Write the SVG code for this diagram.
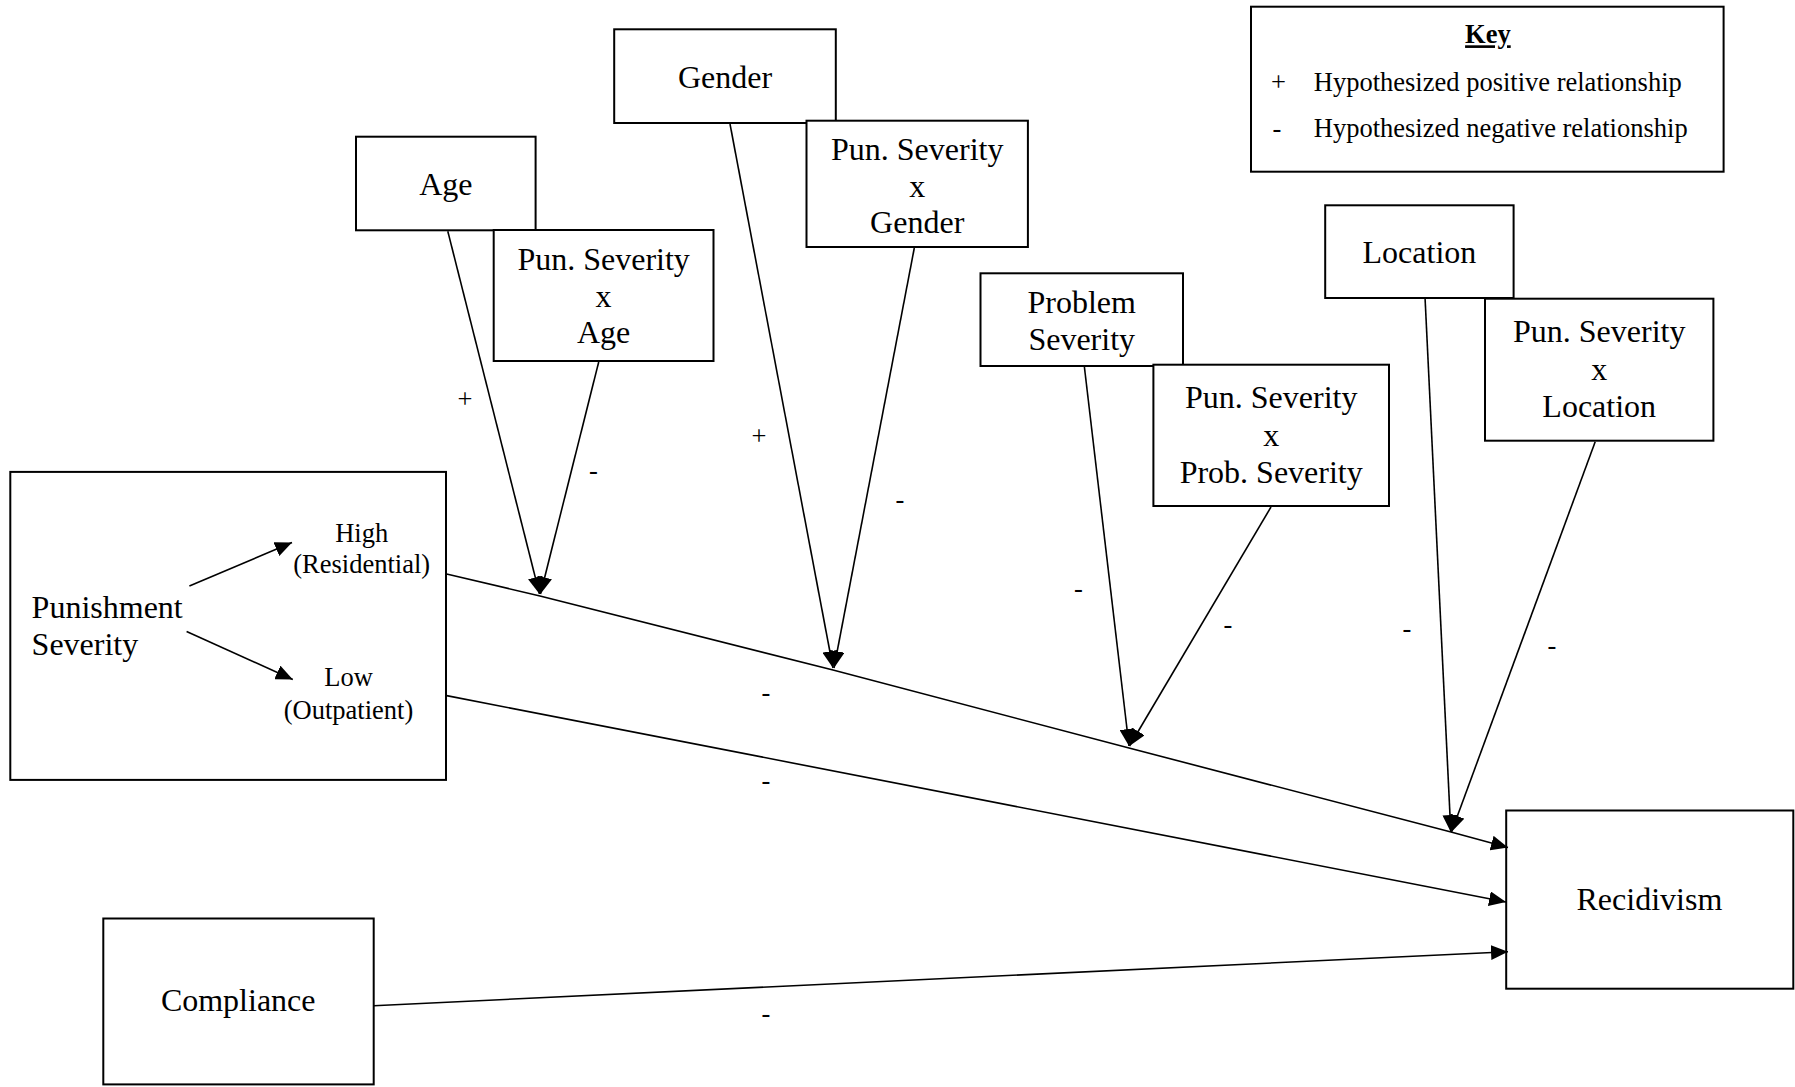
<svg xmlns="http://www.w3.org/2000/svg" width="1795" height="1087" viewBox="0 0 1795 1087">
<style>
.box{fill:#fff;stroke:#000;stroke-width:2}
.t{font-family:"Liberation Serif","Times New Roman",serif;font-size:32px;fill:#000;text-anchor:middle}
.ts{font-family:"Liberation Serif","Times New Roman",serif;font-size:32px;fill:#000;text-anchor:start}
.s{font-family:"Liberation Serif","Times New Roman",serif;font-size:26.5px;fill:#000}
.sm{text-anchor:middle}
.c{fill:none;stroke:#000;stroke-width:1.6}
</style>
<defs>
<marker id="ah" markerUnits="userSpaceOnUse" markerWidth="17" markerHeight="15" refX="17" refY="7.5" orient="auto">
<path d="M0,0 L17,7.5 L0,15 z" fill="#000"/>
</marker>
</defs>
<rect width="1795" height="1087" fill="#fff"/>

<g id="gender">
<rect class="box" x="614.2" y="29.3" width="221.6" height="93.7"/>
<text class="t" x="725" y="88">Gender</text>
</g>
<g id="age">
<rect class="box" x="356" y="136.7" width="179.6" height="93.6"/>
<text class="t" x="445.8" y="195">Age</text>
</g>
<g id="pun-x-age">
<rect class="box" x="493.7" y="230" width="219.8" height="131"/>
<text class="t" x="603.6" y="270">Pun. Severity</text>
<text class="t" x="603.6" y="306.7">x</text>
<text class="t" x="603.6" y="342.7">Age</text>
</g>
<g id="pun-x-gender">
<rect class="box" x="806.5" y="120.7" width="221.4" height="126.3"/>
<text class="t" x="917.2" y="160">Pun. Severity</text>
<text class="t" x="917.2" y="196.7">x</text>
<text class="t" x="917.2" y="233">Gender</text>
</g>
<g id="problem-severity">
<rect class="box" x="980.5" y="273.3" width="202.5" height="92.7"/>
<text class="t" x="1081.7" y="313.3">Problem</text>
<text class="t" x="1081.7" y="350">Severity</text>
</g>
<g id="pun-x-prob">
<rect class="box" x="1153.4" y="364.7" width="235.6" height="141.3"/>
<text class="t" x="1271.2" y="408.3">Pun. Severity</text>
<text class="t" x="1271.2" y="446.3">x</text>
<text class="t" x="1271.2" y="483.3">Prob. Severity</text>
</g>
<g id="location">
<rect class="box" x="1325.2" y="205.3" width="188.4" height="92.7"/>
<text class="t" x="1419.4" y="263.3">Location</text>
</g>
<g id="pun-x-location">
<rect class="box" x="1485" y="298.7" width="228.4" height="142"/>
<text class="t" x="1599.2" y="342.3">Pun. Severity</text>
<text class="t" x="1599.2" y="380">x</text>
<text class="t" x="1599.2" y="416.7">Location</text>
</g>
<g id="key">
<rect class="box" x="1251" y="6.7" width="472.6" height="165"/>
<text class="s sm" x="1487.9" y="43.3" font-weight="bold" text-decoration="underline">Key</text>
<text class="s sm" x="1278.4" y="91">+</text>
<text class="s" x="1313.8" y="91">Hypothesized positive relationship</text>
<text class="s sm" x="1277" y="137">-</text>
<text class="s" x="1313.8" y="137">Hypothesized negative relationship</text>
</g>
<g id="punishment-severity">
<rect class="box" x="10.3" y="471.9" width="435.7" height="308"/>
<text class="ts" x="31.6" y="617.8">Punishment</text>
<text class="ts" x="31.6" y="654.8">Severity</text>
<text class="s sm" x="361.7" y="542">High</text>
<text class="s sm" x="361.7" y="573">(Residential)</text>
<text class="s sm" x="348.5" y="686">Low</text>
<text class="s sm" x="348.5" y="719">(Outpatient)</text>
</g>
<g id="compliance">
<rect class="box" x="103.3" y="918.5" width="270.4" height="165.9"/>
<text class="t" x="238.2" y="1011">Compliance</text>
</g>
<g id="recidivism">
<rect class="box" x="1506.2" y="810.5" width="287.1" height="178.2"/>
<text class="t" x="1649.4" y="910">Recidivism</text>
</g>

<g id="connectors">
<polyline class="c" points="446.6,574 540,596 833,670 1129,748 1451,832 1508,847.5" marker-end="url(#ah)"/>
<line class="c" x1="446.6" y1="695.6" x2="1506" y2="902" marker-end="url(#ah)"/>
<line class="c" x1="373.7" y1="1005.7" x2="1508" y2="951.7" marker-end="url(#ah)"/>
<line class="c" x1="447.8" y1="231.3" x2="539.5" y2="594" marker-end="url(#ah)"/>
<line class="c" x1="598.7" y1="362" x2="540.5" y2="594" marker-end="url(#ah)"/>
<line class="c" x1="730" y1="124" x2="833" y2="668" marker-end="url(#ah)"/>
<line class="c" x1="914.3" y1="248" x2="834" y2="668" marker-end="url(#ah)"/>
<line class="c" x1="1084.4" y1="367" x2="1129" y2="746" marker-end="url(#ah)"/>
<line class="c" x1="1271" y1="507" x2="1129.5" y2="746" marker-end="url(#ah)"/>
<line class="c" x1="1425.1" y1="299" x2="1450.8" y2="832" marker-end="url(#ah)"/>
<line class="c" x1="1595.2" y1="441.7" x2="1451.5" y2="832" marker-end="url(#ah)"/>
<line class="c" x1="189.4" y1="586" x2="292" y2="542.5" marker-end="url(#ah)"/>
<line class="c" x1="186.6" y1="631.4" x2="292.8" y2="679.5" marker-end="url(#ah)"/>
</g>

<g id="labels">
<text class="s sm" x="465" y="408">+</text>
<text class="s sm" x="759" y="445">+</text>
<text class="s sm" x="593.5" y="479">-</text>
<text class="s sm" x="900" y="508">-</text>
<text class="s sm" x="1078.5" y="597">-</text>
<text class="s sm" x="1228" y="633">-</text>
<text class="s sm" x="1407" y="637">-</text>
<text class="s sm" x="1552" y="654">-</text>
<text class="s sm" x="766" y="701">-</text>
<text class="s sm" x="766" y="789">-</text>
<text class="s sm" x="766" y="1022">-</text>
</g>
</svg>
